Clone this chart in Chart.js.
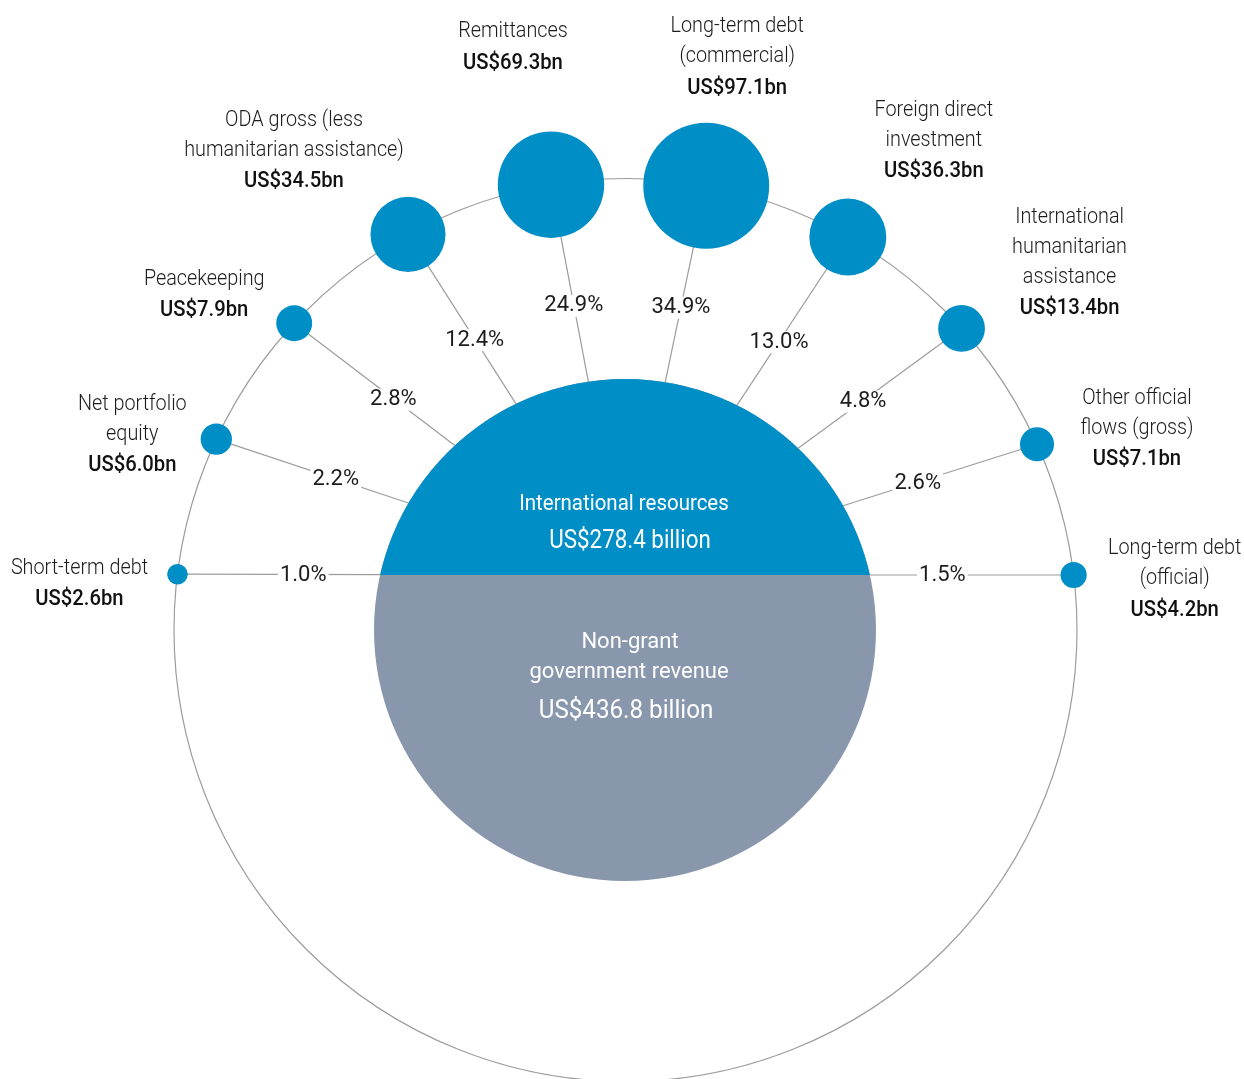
<!DOCTYPE html>
<html>
<head>
<meta charset="utf-8">
<script src="https://cdn.jsdelivr.net/npm/chart.js@4/dist/chart.umd.min.js"></script>
<style>
  html, body { margin: 0; padding: 0; background: #fff; }
  #wrap { width: 1244px; height: 1079px; }
</style>
</head>
<body>
<div id="wrap"><canvas id="myChart" width="1244" height="1079"></canvas></div>
<script>
// flows, in order round the ring (left to right)
const labelLines = [
    ['Short-term debt'],
    ['Net portfolio', 'equity'],
    ['Peacekeeping'],
    ['ODA gross (less', 'humanitarian assistance)'],
    ['Remittances'],
    ['Long-term debt', '(commercial)'],
    ['Foreign direct', 'investment'],
    ['International', 'humanitarian', 'assistance'],
    ['Other official', 'flows (gross)'],
    ['Long-term debt', '(official)'],
];
const valuesBn = [2.6, 6.0, 7.9, 34.5, 69.3, 97.1, 36.3, 13.4, 7.1, 4.2];
const sharePct = [1.0, 2.2, 2.8, 12.4, 24.9, 34.9, 13.0, 4.8, 2.6, 1.5];

const totalNames = [['International resources'], ['Non-grant', 'government revenue']];
const totalValues = [278.4, 436.8];

// layout (pixels / degrees)
const ring = { cx: 625.5, cy: 630, r: 451.5 };
const core = { cx: 625, cy: 630, r: 251, chord: 55 };
const angles = [172.9, 155.0, 137.2, 118.8, 99.5, 79.7, 60.5, 41.9, 24.3, 7.0];
const labelOffsets = [
    [-98, -6], [-84, -35], [-90, -44], [-114, -114], [-38, -153],
    [31, -159], [86, -127], [108, -111], [100, -46], [101, -26],
];
const pctAlong = [0.6, 0.59, 0.58, 0.53, 0.47, 0.44, 0.53, 0.55, 0.58, 0.62];
const bubbleK = 6.39;

const BLUE = '#008ec7';
const GREY = '#8997ad';
const LINE = '#9c9c9c';
const INK = '#1c1c1c';
const FONT = 'Roboto, "Open Sans", sans-serif';

const points = valuesBn.map((v, i) => {
    const a = angles[i] * Math.PI / 180;
    return { x: ring.cx + ring.r * Math.cos(a), y: ring.cy - ring.r * Math.sin(a), r: bubbleK * Math.sqrt(v) };
});

function drawText(ctx, str, x, y, font, color, sx, bg) {
    ctx.save();
    ctx.font = font;
    ctx.textAlign = 'center';
    ctx.textBaseline = 'middle';
    ctx.translate(x, y);
    ctx.scale(sx, 1);
    if (bg) {
        const w = ctx.measureText(str).width;
        ctx.fillStyle = bg;
        ctx.fillRect(-w / 2 - 2, -11, w + 4, 22);
    }
    ctx.fillStyle = color;
    ctx.fillText(str, 0, 0);
    ctx.restore();
}

// where the ray from the chord centre meets the core circle
function coreHit(px, py, ox, oy, cx, cy, r) {
    let dx = px - ox, dy = py - oy;
    const len = Math.hypot(dx, dy);
    dx /= len; dy /= len;
    const fx = ox - cx, fy = oy - cy;
    const b = fx * dx + fy * dy;
    const c = fx * fx + fy * fy - r * r;
    const t = -b + Math.sqrt(b * b - c);
    return { x: ox + dx * t, y: oy + dy * t };
}

const diagram = {
    id: 'diagram',
    beforeDatasetsDraw(chart) {
        const ctx = chart.ctx;
        const xs = chart.scales.x, ys = chart.scales.y;
        const px = v => xs.getPixelForValue(v);
        const py = v => ys.getPixelForValue(v);
        const rr = px(ring.cx + ring.r) - px(ring.cx);
        const cr = px(core.cx + core.r) - px(core.cx);
        const ccx = px(core.cx), ccy = py(core.cy);
        const chordY = py(core.cy - core.chord);

        ctx.save();
        // outer ring
        ctx.strokeStyle = LINE;
        ctx.lineWidth = 1.2;
        ctx.beginPath();
        ctx.arc(px(ring.cx), py(ring.cy), rr, 0, Math.PI * 2);
        ctx.stroke();

        // spokes
        points.forEach((p, i) => {
            const bx = px(p.x), by = py(p.y);
            const end = coreHit(bx, by, ccx, chordY, ccx, ccy, cr);
            ctx.beginPath();
            ctx.moveTo(bx, by);
            ctx.lineTo(end.x, end.y);
            ctx.stroke();
        });

        // core circle: grey with blue cap above the chord
        ctx.fillStyle = GREY;
        ctx.beginPath();
        ctx.arc(ccx, ccy, cr, 0, Math.PI * 2);
        ctx.fill();
        ctx.save();
        ctx.beginPath();
        ctx.rect(0, 0, chart.width, chordY);
        ctx.clip();
        ctx.fillStyle = BLUE;
        ctx.beginPath();
        ctx.arc(ccx, ccy, cr, 0, Math.PI * 2);
        ctx.fill();
        ctx.restore();
        ctx.restore();
    },
    afterDatasetsDraw(chart) {
        const ctx = chart.ctx;
        const xs = chart.scales.x, ys = chart.scales.y;
        const px = v => xs.getPixelForValue(v);
        const py = v => ys.getPixelForValue(v);
        const cr = px(core.cx + core.r) - px(core.cx);
        const ccx = px(core.cx), ccy = py(core.cy);
        const chordY = py(core.cy - core.chord);

        points.forEach((p, i) => {
            const bx = px(p.x), by = py(p.y);
            // share label on the spoke
            const end = coreHit(bx, by, ccx, chordY, ccx, ccy, cr);
            const len = Math.hypot(end.x - bx, end.y - by);
            const ux = (end.x - bx) / len, uy = (end.y - by) / len;
            const sx = bx + ux * p.r, sy = by + uy * p.r;
            const f = pctAlong[i];
            const lx = sx + (end.x - sx) * f, ly = sy + (end.y - sy) * f;
            drawText(ctx, sharePct[i].toFixed(1) + '%', lx, ly + 1, '400 22px ' + FONT, INK, 1.0, '#fff');

            // name + value
            const tx = bx + labelOffsets[i][0];
            let ty = by + labelOffsets[i][1];
            labelLines[i].forEach((line, k) => {
                drawText(ctx, line, tx, ty + k * 30, '300 22px ' + FONT, INK, 0.9);
            });
            ty += (labelLines[i].length - 1) * 30 + 31.5;
            drawText(ctx, 'US$' + valuesBn[i].toFixed(1) + 'bn', tx, ty, '500 22px ' + FONT, '#111', 0.92);
        });

        // core texts
        drawText(ctx, totalNames[0][0], ccx - 1, ccy - 126, '400 22px ' + FONT, '#fff', 0.93);
        drawText(ctx, 'US$' + totalValues[0].toFixed(1) + ' billion', ccx + 5, ccy - 89, '400 26px ' + FONT, '#fff', 0.86);
        drawText(ctx, totalNames[1][0], ccx + 5, ccy + 12, '400 22px ' + FONT, '#fff', 1.0);
        drawText(ctx, totalNames[1][1], ccx + 4, ccy + 42, '400 22px ' + FONT, '#fff', 1.0);
        drawText(ctx, 'US$' + totalValues[1].toFixed(1) + ' billion', ccx + 1, ccy + 81, '400 26px ' + FONT, '#fff', 0.93);
    },
};

const config = {
    type: 'bubble',
    data: {
        datasets: [
            {
                data: points,
                backgroundColor: BLUE,
                borderWidth: 0,
                hoverRadius: 0,
                clip: false,
            },
        ],
    },
    options: {
        responsive: false,
        animation: false,
        events: [],
        layout: { padding: 0, autoPadding: false },
        plugins: {
            legend: false,
            tooltip: { enabled: false },
        },
        scales: {
            x: { type: 'linear', min: 0, max: 1244, display: false },
            y: { type: 'linear', min: 0, max: 1079, reverse: true, display: false },
        },
    },
    plugins: [diagram],
};

var myChart = new Chart(document.getElementById('myChart'), config);
</script>
</body>
</html>
